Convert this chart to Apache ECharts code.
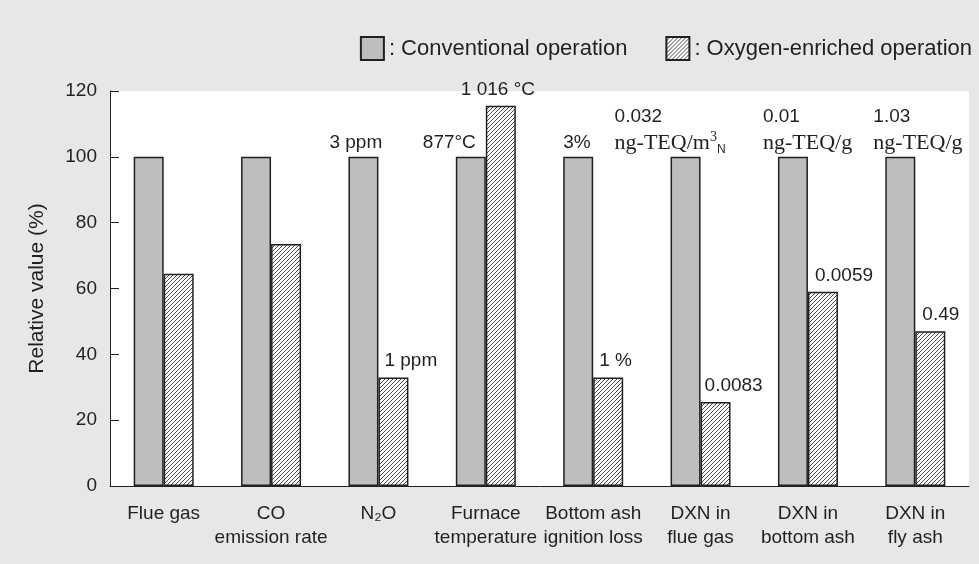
<!DOCTYPE html>
<html>
<head>
    <meta charset="utf-8">
    <title>Relative value chart</title>
    <script src="https://cdn.jsdelivr.net/npm/echarts@6/dist/echarts.min.js"></script>
    <style>
        html, body { margin: 0; padding: 0; background: #e6e7e8; }
    </style>
</head>
<body>
    <div id="main" style="width:979px;height:564px;"></div>
    <script type="text/javascript">
        // data
        var categories = ['Flue gas', 'CO\nemission rate', 'N₂O', 'Furnace\ntemperature',
            'Bottom ash\nignition loss', 'DXN in\nflue gas', 'DXN in\nbottom ash', 'DXN in\nfly ash'];
        var seriesNames = ['Conventional operation', 'Oxygen-enriched operation'];
        var conventional = [100, 100, 100, 100, 100, 100, 100, 100];
        var oxygenEnriched = [64.5, 73.5, 33, 115.5, 33, 25.5, 59, 47];
        var conventionalText = ['', '', '3 ppm', '877°C', '3%',
            '{n|0.032}\n{u|ng-TEQ/m}{sup|3}{sub|N}', '{n|0.01}\n{u|ng-TEQ/g}', '{n|1.03}\n{u|ng-TEQ/g}'];
        var enrichedText = ['', '', '1 ppm', '1 016 °C', '1 %', '0.0083', '0.0059', '0.49'];
        var yTicks = { min: 0, max: 120, interval: 20 };

        var ink = '#231f20';
        var font = 'Liberation Sans, Arial, sans-serif';
        var serif = 'Liberation Serif, Times New Roman, serif';

        // hatch tile for the oxygen-enriched bars
        function hatch() {
            var c = document.createElement('canvas');
            c.width = 4; c.height = 4;
            var ctx = c.getContext('2d');
            ctx.fillStyle = '#fff';
            ctx.fillRect(0, 0, 4, 4);
            ctx.strokeStyle = '#333';
            ctx.lineWidth = 0.9;
            ctx.beginPath();
            ctx.moveTo(-1, 5); ctx.lineTo(5, -1);
            ctx.moveTo(-1, 1); ctx.lineTo(1, -1);
            ctx.moveTo(3, 5); ctx.lineTo(5, 3);
            ctx.stroke();
            return c;
        }

        // label shifts (left edge relative to bar centre)
        var grayShift = [0, 0, -34, -48, -15, -71, -30, -27];
        var hatchShift = [0, 0, -9, -40, -9, -11, -8, -8];

        var richText = {
            n: { fontFamily: font, fontSize: 19, color: ink, lineHeight: 26 },
            u: { fontFamily: serif, fontSize: 22, color: ink, lineHeight: 26 },
            sup: { fontFamily: serif, fontSize: 14, color: ink, verticalAlign: 'top', lineHeight: 24 },
            sub: { fontFamily: font, fontSize: 12, color: ink, verticalAlign: 'bottom', lineHeight: 20 }
        };

        function makeData(values, texts, shifts) {
            return values.map(function (v, i) {
                return {
                    value: v,
                    label: {
                        show: texts[i] !== '',
                        formatter: texts[i],
                        offset: [shifts[i], 0]
                    }
                };
            });
        }

        var myChart = echarts.init(document.getElementById('main'));
        var option = {
            backgroundColor: '#e6e7e8',
            animation: false,
            textStyle: { fontFamily: font, color: ink },
            legend: {
                right: 2,
                top: 31,
                itemWidth: 23,
                itemHeight: 23,
                itemGap: 38,
                icon: 'rect',
                textStyle: { fontSize: 22, color: ink, fontFamily: font },
                formatter: function (name) { return ': ' + name; },
                data: seriesNames
            },
            grid: {
                left: 110, right: 10, top: 91, bottom: 78,
                show: true, backgroundColor: '#fff', borderWidth: 0
            },
            xAxis: {
                type: 'category',
                data: categories,
                axisLine: { lineStyle: { color: ink, width: 1 } },
                axisTick: { inside: true, length: 9, lineStyle: { color: '#555' } },
                axisLabel: { fontSize: 19, lineHeight: 24, color: ink, margin: 16, interval: 0, fontFamily: font }
            },
            yAxis: {
                type: 'value',
                min: yTicks.min, max: yTicks.max, interval: yTicks.interval,
                name: 'Relative value (%)',
                nameLocation: 'middle',
                nameGap: 62,
                nameTextStyle: { fontSize: 21, color: ink, fontFamily: font },
                axisLine: { show: true, lineStyle: { color: ink, width: 1 } },
                axisTick: { show: true, inside: true, length: 9, lineStyle: { color: ink } },
                axisLabel: { fontSize: 19, color: ink, margin: 13, fontFamily: font },
                splitLine: { show: false }
            },
            series: [
                {
                    name: seriesNames[0],
                    type: 'bar',
                    barWidth: 30,
                    barGap: '0%',
                    itemStyle: { color: '#bcbec0', borderColor: ink, borderWidth: 1.5 },
                    label: {
                        position: 'top', align: 'left', distance: 1, lineHeight: 26,
                        fontSize: 19, color: ink, fontFamily: font, rich: richText
                    },
                    data: makeData(conventional, conventionalText, grayShift)
                },
                {
                    name: seriesNames[1],
                    type: 'bar',
                    barWidth: 30,
                    itemStyle: { color: { image: hatch(), repeat: 'repeat' }, borderColor: ink, borderWidth: 1.5 },
                    label: {
                        position: 'top', align: 'left', distance: 7,
                        fontSize: 19, color: ink, fontFamily: font
                    },
                    data: makeData(oxygenEnriched, enrichedText, hatchShift)
                }
            ]
        };
        myChart.setOption(option);
    </script>
</body>
</html>
